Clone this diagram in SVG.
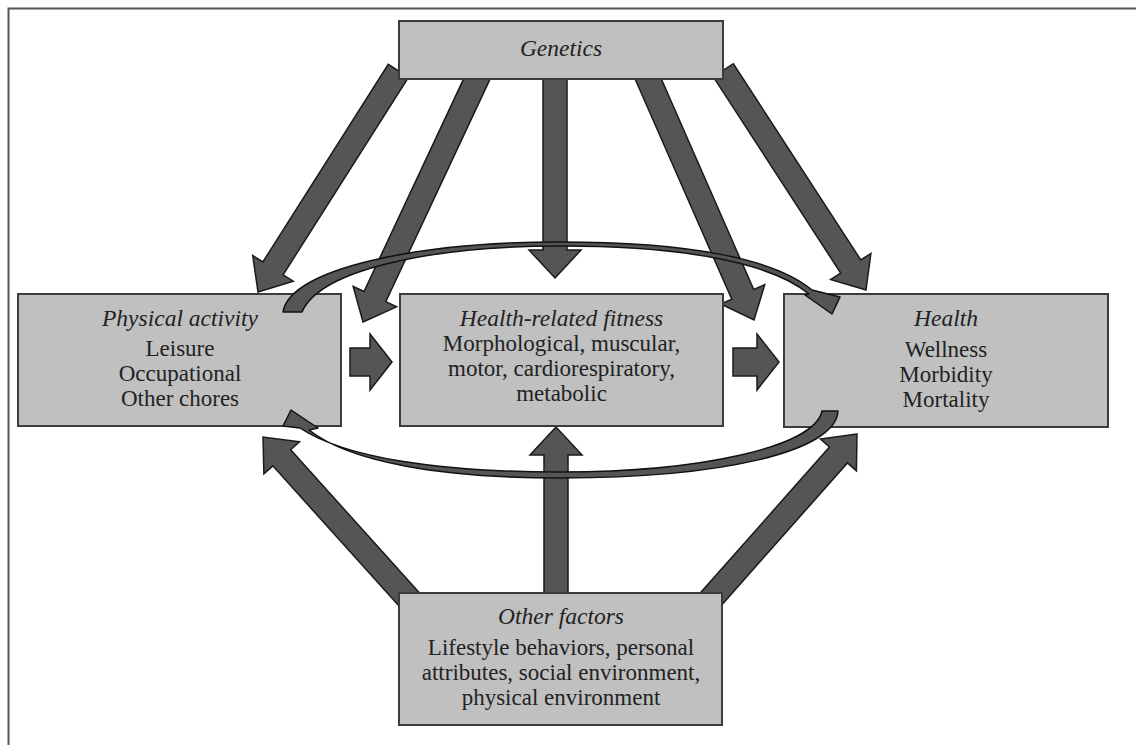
<svg xmlns="http://www.w3.org/2000/svg" width="1136" height="745" viewBox="0 0 1136 745">
<style>
.box{fill:#c0c0c0;stroke:#3c3c3c;stroke-width:2}
.arr{fill:#555;stroke:#1a1a1a;stroke-width:1.5;stroke-linejoin:miter}
.crv{fill:#555;stroke:#111;stroke-width:1.5;stroke-linejoin:round}
text{font-family:"Liberation Serif","Times New Roman",serif;font-size:23px;fill:#222;text-anchor:middle}
.t{font-style:italic;font-size:23.5px}
.frame{stroke:#555;stroke-width:2;fill:none}
</style>
<rect width="1136" height="745" fill="#fff"/>
<path class="frame" d="M8.5,745 L8.5,8.5 L1136,8.5"/>

<g id="connectors">
  <!-- Genetics arrows -->
  <path class="arr" transform="translate(258,292) rotate(122.4)" d="M0,0 L-28,-24 L-28,-12 L-262,-12 L-262,12 L-28,12 L-28,24 Z"/>
  <path class="arr" transform="translate(363,322) rotate(115.1)" d="M0,0 L-28,-24 L-28,-12 L-280,-12 L-280,12 L-28,12 L-28,24 Z"/>
  <path class="arr" transform="translate(555,278) rotate(90)" d="M0,0 L-28,-26 L-28,-12 L-218,-12 L-218,12 L-28,12 L-28,26 Z"/>
  <path class="arr" transform="translate(754,320) rotate(66.3)" d="M0,0 L-28,-24 L-28,-12 L-280,-12 L-280,12 L-28,12 L-28,24 Z"/>
  <path class="arr" transform="translate(866,290) rotate(57)" d="M0,0 L-28,-24 L-28,-12 L-262,-12 L-262,12 L-28,12 L-28,24 Z"/>
  <!-- Other factors arrows -->
  <path class="arr" transform="translate(263,437) rotate(-132)" d="M0,0 L-28,-24 L-28,-12 L-230,-12 L-230,12 L-28,12 L-28,24 Z"/>
  <path class="arr" transform="translate(556,427) rotate(-90)" d="M0,0 L-28,-26 L-28,-12 L-183,-12 L-183,12 L-28,12 L-28,26 Z"/>
  <path class="arr" transform="translate(857,434) rotate(-48.5)" d="M0,0 L-28,-24 L-28,-12 L-230,-12 L-230,12 L-28,12 L-28,24 Z"/>
  <!-- horizontal arrows -->
  <path class="arr" transform="translate(392,362)" d="M0,0 L-22,-28 L-22,-14 L-42,-14 L-42,14 L-22,14 L-22,28 Z"/>
  <path class="arr" transform="translate(779,362)" d="M0,0 L-22,-28 L-22,-14 L-46,-14 L-46,14 L-22,14 L-22,28 Z"/>
</g>

<g id="genetics">
  <rect class="box" x="399" y="21" width="324" height="58"/>
  <text class="t" x="561" y="56">Genetics</text>
</g>
<g id="physical-activity">
  <rect class="box" x="18" y="294" width="323" height="132"/>
  <text class="t" x="180" y="326">Physical activity</text>
  <text x="180" y="356">Leisure</text>
  <text x="180" y="381">Occupational</text>
  <text x="180" y="406">Other chores</text>
</g>
<g id="fitness">
  <rect class="box" x="400" y="294" width="323" height="132"/>
  <text class="t" x="561.5" y="326">Health-related fitness</text>
  <text x="561.5" y="351">Morphological, muscular,</text>
  <text x="561.5" y="376">motor, cardiorespiratory,</text>
  <text x="561.5" y="401">metabolic</text>
</g>
<g id="health">
  <rect class="box" x="784" y="294" width="324" height="133"/>
  <text class="t" x="946" y="326">Health</text>
  <text x="946" y="357">Wellness</text>
  <text x="946" y="382">Morbidity</text>
  <text x="946" y="407">Mortality</text>
</g>
<g id="other-factors">
  <rect class="box" x="399" y="593" width="323" height="132"/>
  <text class="t" x="561" y="624">Other factors</text>
  <text x="561" y="655">Lifestyle behaviors, personal</text>
  <text x="561" y="680">attributes, social environment,</text>
  <text x="561" y="705">physical environment</text>
</g>

<g id="curved-connectors">
  <path class="crv" d="M283,312 C290,268 420,242 560,242 C690,242 775,259 812,290 L840,297 L832,314 L805,295 L809,294 C772,264 690,246 560,246 C430,246 320,270 302,312 Z"/>
  <path class="crv" d="M822,411 L838,411 C836,452 720,478 560,478 C440,478 350,462 309,430 L318,428 L291,410 L283,426 L300,428 C345,458 440,472 560,472 C700,472 815,447 822,411 Z"/>
</g>
</svg>
